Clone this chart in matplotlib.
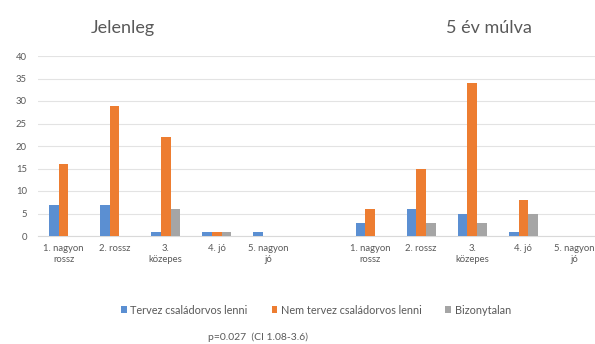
import numpy as np
import matplotlib
matplotlib.use("Agg")
import matplotlib.pyplot as plt

plt.rcParams['font.family'] = ['Lato', 'DejaVu Sans']

# Rating categories (same for both periods)
categories = ["1. nagyon\nrossz", "2. rossz", "3.\nközepes", "4. jó", "5. nagyon\njó"]
series_names = ["Tervez családorvos lenni", "Nem tervez családorvos lenni", "Bizonytalan"]

# Jelenleg (current)
now_tervez = [7, 7, 1, 1, 1]
now_nem = [16, 29, 22, 1, 0]
now_bizonytalan = [0, 0, 6, 1, 0]

# 5 év múlva (in five years)
later_tervez = [3, 6, 5, 1, 0]
later_nem = [6, 15, 34, 8, 0]
later_bizonytalan = [0, 3, 3, 5, 0]

colors = ["#5B8FD2", "#ED7D31", "#A5A5A5"]
text_color = "#595959"

fig = plt.figure(figsize=(5.95, 3.44), dpi=100)
ax = fig.add_axes([38 / 595, 1 - 236 / 344, 562 / 595, 180 / 344])

n = len(categories)
# one empty category slot separates the two periods
x_now = np.arange(n)
x_later = np.arange(n) + n + 1
x_all = np.concatenate([x_now, x_later])

values = [
    now_tervez + later_tervez,
    now_nem + later_nem,
    now_bizonytalan + later_bizonytalan,
]

bw = 0.19
offsets = [-bw, 0, bw]
for vals, off, col, name in zip(values, offsets, colors, series_names):
    ax.bar(x_all + off, vals, width=bw, color=col, label=name, zorder=3)

ax.set_xlim(-0.5, 2 * n + 0.5)
ax.set_ylim(0, 40)
ax.set_yticks(np.arange(0, 41, 5))
ax.yaxis.grid(True, color="#E3E3E3", linewidth=0.8, zorder=0)
ax.set_axisbelow(True)

ax.set_xticks(x_all)
ax.set_xticklabels(categories + categories, fontsize=6.8, color=text_color,
                   linespacing=1.3)
ax.tick_params(axis="x", length=0, pad=6)
ax.tick_params(axis="y", length=0, pad=8, labelsize=6.8, labelcolor=text_color)

for side in ["top", "right", "left"]:
    ax.spines[side].set_visible(False)
ax.spines["bottom"].set_color("#D9D9D9")
ax.spines["bottom"].set_linewidth(0.8)

fig.text(123 / 595, 1 - 28 / 344, "Jelenleg", fontsize=13, color=text_color,
         ha="center", va="center")
fig.text(489 / 595, 1 - 28 / 344, "5 év múlva", fontsize=13, color=text_color,
         ha="center", va="center")

handles, labels = ax.get_legend_handles_labels()
fig.legend(handles, labels, loc="center", bbox_to_anchor=(316 / 595, 1 - 310 / 344),
           ncol=3, frameon=False, fontsize=7.8, handlelength=0.55, handleheight=0.55,
           handletextpad=0.3, columnspacing=2.2, labelcolor=text_color)

fig.text(258 / 595, 1 - 337 / 344, "p=0.027  (CI 1.08-3.6)", fontsize=7.5,
         color=text_color, ha="center", va="center")

fig.savefig("out.png", dpi=100)
